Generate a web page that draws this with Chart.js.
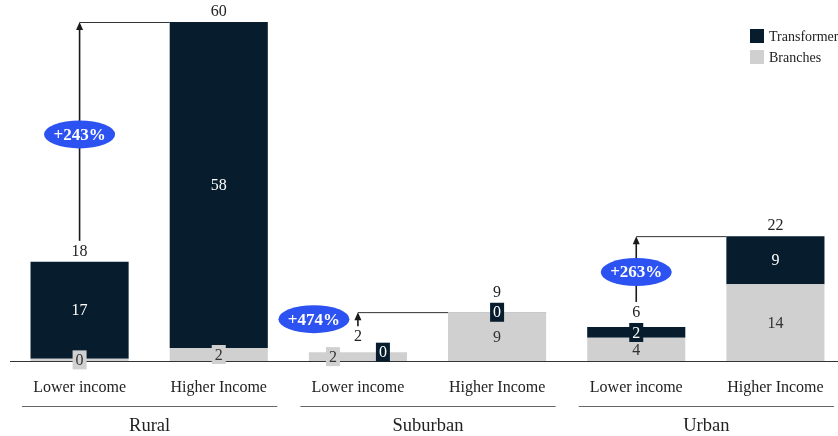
<!DOCTYPE html>
<html>
<head>
<meta charset="utf-8">
<script src="https://cdn.jsdelivr.net/npm/chart.js@4.4.1/dist/chart.umd.min.js"></script>
<style>
  html, body { margin: 0; padding: 0; background: #fff; overflow: hidden; }
  #wrap { width: 845px; height: 436px; }
</style>
</head>
<body>
<div id="wrap"><canvas id="chart"></canvas></div>
<script>
const groups = ['Rural', 'Suburban', 'Urban'];
const incomes = ['Lower income', 'Higher Income'];
// one entry per bar: Rural low/high, Suburban low/high, Urban low/high
const branches = [0.4, 2.3, 1.55, 8.6, 4.1, 13.6];
const transformer = [17.15, 57.7, 0.02, 0.05, 1.9, 8.5];
const growth = ['+243%', '+474%', '+263%'];

const DARK = '#071d2d';
const GREY = '#d0d0d0';
const BLUE = '#2c52f2';
const SERIF = '"Liberation Serif", "Times New Roman", serif';

const labels = [];
groups.forEach(g => incomes.forEach(inc => labels.push(inc)));

function box(ctx, text, x, y, bg, fg) {
  ctx.font = '16px ' + SERIF;
  const w = ctx.measureText(text).width + 6;
  const h = 19;
  ctx.fillStyle = bg;
  ctx.fillRect(x - w / 2, y - h / 2, w, h);
  ctx.fillStyle = fg;
  ctx.textAlign = 'center';
  ctx.textBaseline = 'middle';
  ctx.fillText(text, x, y + 1);
  return y - h / 2;
}

const overlay = {
  id: 'overlay',
  afterDatasetsDraw(chart) {
    const ctx = chart.ctx;
    const area = chart.chartArea;
    const lower = chart.getDatasetMeta(0).data;
    const upper = chart.getDatasetMeta(1).data;
    const tops = [];
    ctx.save();

    // baseline
    ctx.strokeStyle = '#333';
    ctx.lineWidth = 1.2;
    ctx.beginPath();
    ctx.moveTo(area.left, area.bottom + 0.5);
    ctx.lineTo(area.right, area.bottom + 0.5);
    ctx.stroke();

    labels.forEach((_, i) => {
      const a = lower[i], b = upper[i];
      const ha = Math.abs(a.base - a.y), hb = Math.abs(b.base - b.y);
      const crowded = ha < 18 && hb < 18;
      const dx = crowded ? 25 : 0;
      box(ctx, String(Math.round(branches[i])), a.x - dx, (a.y + a.base) / 2, GREY, '#333');
      const boxTop = box(ctx, String(Math.round(transformer[i])), b.x + dx, (b.y + b.base) / 2, DARK, '#fff');
      const total = branches[i] + transformer[i];
      const ty = Math.min(b.y, crowded ? b.y - 5 : boxTop) - 11;
      ctx.font = '16px ' + SERIF;
      ctx.fillStyle = '#222';
      ctx.textAlign = 'center';
      ctx.textBaseline = 'middle';
      ctx.fillText(String(Math.round(total)), b.x, ty + 1);
      tops.push({ x: b.x, top: b.y, label: ty, half: b.width / 2 });
    });

    // growth arrows between lower and higher income bars
    groups.forEach((g, k) => {
      const lo = tops[k * 2], hi = tops[k * 2 + 1];
      const y0 = lo.label - 10, y1 = hi.top;
      ctx.strokeStyle = '#333';
      ctx.lineWidth = 1;
      ctx.beginPath();
      ctx.moveTo(lo.x, y1 + 0.5);
      ctx.lineTo(hi.x - hi.half, y1 + 0.5);
      ctx.stroke();
      ctx.strokeStyle = '#1a1a1a';
      ctx.lineWidth = 1.6;
      ctx.beginPath();
      ctx.moveTo(lo.x, y0);
      ctx.lineTo(lo.x, y1 + 6);
      ctx.stroke();
      ctx.fillStyle = '#1a1a1a';
      ctx.beginPath();
      ctx.moveTo(lo.x, y1);
      ctx.lineTo(lo.x - 3.5, y1 + 8);
      ctx.lineTo(lo.x + 3.5, y1 + 8);
      ctx.closePath();
      ctx.fill();

      const long = (y0 - y1) > 40;
      const my = (y0 + y1) / 2 + (long ? 3 : 0);
      const ex = long ? lo.x : lo.x - 44;
      ctx.fillStyle = BLUE;
      ctx.beginPath();
      ctx.ellipse(ex, my, 35.5, 14, 0, 0, Math.PI * 2);
      ctx.fill();
      ctx.fillStyle = '#fff';
      ctx.font = 'bold 17px ' + SERIF;
      ctx.textAlign = 'center';
      ctx.textBaseline = 'middle';
      ctx.fillText(growth[k], ex, my + 1);
    });

    // two-level category axis
    const x = chart.scales.x;
    ctx.fillStyle = '#222';
    ctx.font = '16px ' + SERIF;
    labels.forEach((l, i) => ctx.fillText(l, x.getPixelForValue(i), area.bottom + 27));
    groups.forEach((g, k) => {
      const left = x.getPixelForValue(k * 2) - 69.5 + 12;
      const right = x.getPixelForValue(k * 2 + 1) + 69.5 - 11;
      ctx.strokeStyle = '#666';
      ctx.lineWidth = 1;
      ctx.beginPath();
      ctx.moveTo(left, area.bottom + 45.5);
      ctx.lineTo(right, area.bottom + 45.5);
      ctx.stroke();
      ctx.fillStyle = '#222';
      ctx.font = '18.5px ' + SERIF;
      ctx.fillText(g, (left + right) / 2, area.bottom + 65);
    });

    // legend, top series first
    const items = [['Transformer', DARK], ['Branches', GREY]];
    ctx.font = '14px ' + SERIF;
    ctx.textAlign = 'left';
    items.forEach(([name, c], j) => {
      const y = 29 + j * 21;
      ctx.fillStyle = c;
      ctx.fillRect(750, y, 14, 14);
      ctx.fillStyle = '#222';
      ctx.fillText(name, 769, y + 8);
    });
    ctx.restore();
  }
};

new Chart(document.getElementById('chart'), {
  type: 'bar',
  data: {
    labels: labels,
    datasets: [
      { label: 'Branches', data: branches, backgroundColor: GREY },
      { label: 'Transformer', data: transformer, backgroundColor: DARK }
    ]
  },
  options: {
    responsive: true,
    maintainAspectRatio: false,
    animation: false,
    layout: { padding: { left: 10, right: 0, top: 22, bottom: 75 } },
    datasets: { bar: { categoryPercentage: 1, barPercentage: 0.705 } },
    scales: {
      x: { stacked: true, display: false },
      y: { stacked: true, display: false, min: 0, max: 60 }
    },
    plugins: { legend: { display: false }, tooltip: { enabled: false } }
  },
  plugins: [overlay]
});
</script>
</body>
</html>
